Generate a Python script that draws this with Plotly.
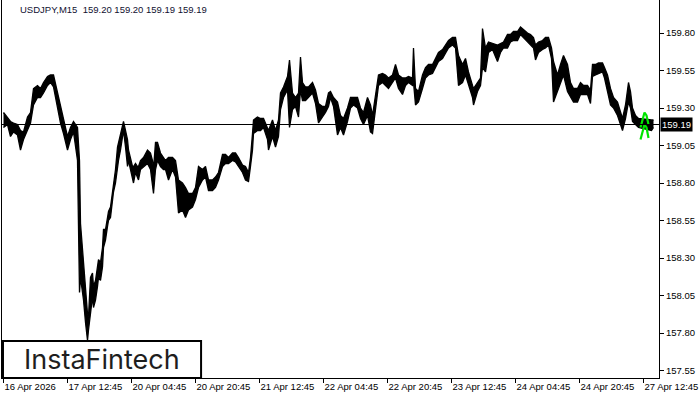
import numpy as np
import plotly.graph_objects as go

# M15 bars sampled along the chart (bar number from the first visible bar)
bar_no = [0, 4, 7, 10, 14, 17, 20, 24, 27, 30, 34, 37, 40, 44, 47, 50, 54, 57, 60, 64,
          67, 70, 74, 76, 77, 79, 80, 82, 84, 85, 87, 89, 90, 92, 94, 95, 97, 99, 100, 102,
          104, 105, 107, 110, 112, 114, 115, 117, 119, 120, 122, 124, 125, 127, 129, 130, 132, 134, 135, 137,
          140, 144, 147, 149, 150, 152, 154, 157, 160, 162, 165, 169, 172, 175, 179, 182, 185, 189, 192, 195,
          199, 202, 205, 209, 212, 215, 219, 222, 225, 229, 232, 235, 239, 242, 245, 247, 249, 250, 254, 257,
          260, 264, 265, 269, 272, 275, 277, 280, 284, 286, 289, 292, 295, 297, 299, 302, 305, 309, 312, 315,
          319, 322, 325, 327, 330, 334, 337, 340, 344, 347, 350, 354, 357, 360, 364, 367, 369, 372, 375, 379,
          382, 385, 389, 392, 395, 399, 402, 405, 409, 410, 412, 415, 419, 422, 425, 429, 432, 435, 439, 442,
          445, 449, 452, 455, 459, 462, 465, 469, 470, 474, 477, 479, 482, 485, 489, 494, 497, 500, 504, 507,
          510, 514, 517, 520, 524, 527, 530, 532, 535, 539, 542, 545, 548, 550, 554, 557, 560, 564, 567, 570,
          574, 577, 580, 584, 587, 589, 592, 595, 599, 601, 604, 607, 610, 614, 617, 619, 622, 625, 627, 629,
          632, 635, 648, 650]
high = [159.27, 159.24, 159.21, 159.20, 159.19, 159.15, 159.14, 159.24, 159.27, 159.43, 159.45, 159.43, 159.47, 159.51, 159.52, 159.52, 159.40, 159.31, 159.22, 159.11,
        159.17, 159.21, 159.17, 158.95, 158.53, 158.35, 158.24, 158.07, 157.93, 157.91, 158.17, 158.20, 158.11, 158.15, 158.27, 158.29, 158.27, 158.37, 158.49, 158.49,
        158.57, 158.61, 158.64, 158.80, 158.89, 159.04, 159.07, 159.11, 159.17, 159.21, 159.15, 159.09, 159.02, 158.97, 158.91, 158.91, 158.93, 158.91, 158.91, 158.95,
        158.97, 159.02, 159.00, 158.95, 158.89, 159.07, 159.07, 159.00, 158.97, 158.95, 158.97, 158.97, 158.95, 158.82, 158.80, 158.77, 158.73, 158.73, 158.77, 158.91,
        158.89, 158.91, 158.82, 158.82, 158.84, 158.87, 158.99, 158.99, 158.97, 159.00, 159.00, 158.97, 158.92, 158.91, 158.87, 158.97, 159.13, 159.22, 159.24, 159.23,
        159.23, 159.17, 159.15, 159.22, 159.15, 159.22, 159.40, 159.44, 159.51, 159.62, 159.40, 159.37, 159.40, 159.64, 159.47, 159.44, 159.44, 159.47, 159.42, 159.33,
        159.31, 159.31, 159.40, 159.41, 159.37, 159.34, 159.25, 159.23, 159.30, 159.37, 159.37, 159.37, 159.30, 159.27, 159.37, 159.32, 159.25, 159.39, 159.52, 159.53,
        159.52, 159.50, 159.52, 159.59, 159.52, 159.50, 159.50, 159.51, 159.50, 159.70, 159.43, 159.41, 159.52, 159.57, 159.59, 159.59, 159.63, 159.67, 159.69, 159.72,
        159.75, 159.77, 159.77, 159.65, 159.59, 159.63, 159.54, 159.45, 159.43, 159.47, 159.50, 159.83, 159.70, 159.74, 159.73, 159.72, 159.73, 159.74, 159.79, 159.79,
        159.81, 159.81, 159.84, 159.82, 159.80, 159.79, 159.77, 159.72, 159.74, 159.75, 159.77, 159.77, 159.70, 159.61, 159.52, 159.59, 159.65, 159.59, 159.47, 159.43,
        159.43, 159.47, 159.45, 159.45, 159.42, 159.59, 159.59, 159.60, 159.60, 159.57, 159.52, 159.43, 159.37, 159.34, 159.27, 159.23, 159.32, 159.47, 159.41, 159.30,
        159.25, 159.23, 159.22, 159.22]
low = [159.17, 159.19, 159.11, 159.14, 159.12, 159.02, 159.09, 159.15, 159.20, 159.32, 159.37, 159.37, 159.40, 159.45, 159.47, 159.44, 159.31, 159.20, 159.13, 159.02,
       159.09, 159.14, 158.95, 158.07, 158.17, 158.09, 158.02, 157.87, 157.75, 157.82, 157.93, 158.04, 157.97, 158.02, 158.11, 158.17, 158.15, 158.24, 158.37, 158.42,
       158.51, 158.55, 158.57, 158.74, 158.80, 158.93, 158.95, 159.02, 159.09, 159.15, 159.04, 158.91, 158.95, 158.89, 158.84, 158.80, 158.87, 158.84, 158.82, 158.89,
       158.91, 158.93, 158.89, 158.80, 158.73, 158.89, 158.95, 158.91, 158.89, 158.89, 158.82, 158.89, 158.84, 158.60, 158.62, 158.57, 158.62, 158.64, 158.69, 158.77,
       158.82, 158.84, 158.75, 158.75, 158.77, 158.82, 158.91, 158.93, 158.93, 158.95, 158.94, 158.91, 158.87, 158.82, 158.81, 158.91, 159.02, 159.13, 159.15, 159.15,
       159.17, 159.09, 159.02, 159.11, 159.04, 159.11, 159.29, 159.37, 159.42, 159.17, 159.29, 159.31, 159.24, 159.42, 159.35, 159.35, 159.37, 159.40, 159.33, 159.20,
       159.24, 159.27, 159.31, 159.37, 159.31, 159.12, 159.17, 159.12, 159.21, 159.30, 159.32, 159.30, 159.23, 159.19, 159.25, 159.14, 159.13, 159.30, 159.45, 159.47,
       159.45, 159.43, 159.47, 159.50, 159.43, 159.39, 159.45, 159.47, 159.45, 159.47, 159.32, 159.34, 159.43, 159.50, 159.52, 159.53, 159.57, 159.61, 159.63, 159.67,
       159.70, 159.72, 159.70, 159.45, 159.47, 159.52, 159.45, 159.37, 159.32, 159.41, 159.45, 159.57, 159.54, 159.67, 159.69, 159.61, 159.67, 159.70, 159.70, 159.74,
       159.75, 159.75, 159.79, 159.77, 159.74, 159.72, 159.70, 159.62, 159.67, 159.69, 159.70, 159.72, 159.63, 159.34, 159.41, 159.47, 159.52, 159.41, 159.37, 159.34,
       159.34, 159.39, 159.39, 159.39, 159.33, 159.51, 159.52, 159.53, 159.54, 159.50, 159.41, 159.32, 159.30, 159.25, 159.19, 159.15, 159.23, 159.34, 159.30, 159.21,
       159.19, 159.17, 159.15, 159.17]

# last bars highlighted in green
green_no = [637, 639, 641, 643, 645]
green_high = [159.17, 159.23, 159.27, 159.25, 159.19]
green_low = [159.09, 159.15, 159.19, 159.17, 159.10]

last_price = 159.19
price_ticks = [157.55, 157.80, 158.05, 158.30, 158.55, 158.80, 159.05, 159.30, 159.55, 159.80]
time_ticks = [0, 64, 128, 192, 256, 320, 384, 448, 512, 576, 640]
time_labels = ["16 Apr 2026", "17 Apr 12:45", "20 Apr 04:45", "20 Apr 20:45", "21 Apr 12:45",
               "22 Apr 04:45", "22 Apr 20:45", "23 Apr 12:45", "24 Apr 04:45", "24 Apr 20:45",
               "27 Apr 12:45"]

fig = go.Figure()
# price range drawn as a band between the bar lows and highs
fig.add_trace(go.Scatter(x=bar_no, y=low, mode="lines", line=dict(color="black", width=1.3),
                         hoverinfo="skip"))
fig.add_trace(go.Scatter(x=bar_no, y=high, mode="lines", line=dict(color="black", width=1.3),
                         fill="tonexty", fillcolor="black", hoverinfo="skip"))

# highlighted bars: two green strokes along their lows and highs
for ys in (green_low, green_high):
    fig.add_trace(go.Scatter(x=green_no, y=ys, mode="lines",
                             line=dict(color="#00e600", width=2.2), hoverinfo="skip"))

font = dict(family="Liberation Sans, Arial, sans-serif", size=9.5, color="black")

fig.update_layout(
    width=700, height=400,
    margin=dict(l=2, r=41, t=0, b=22),
    paper_bgcolor="white", plot_bgcolor="white",
    showlegend=False,
    font=font,
    xaxis=dict(range=[-1.5, 655.5], showgrid=False, zeroline=False,
               showline=True, linecolor="black", linewidth=1,
               tickvals=time_ticks, ticktext=time_labels,
               ticks="outside", ticklen=4, tickcolor="black",
               ticklabelposition="outside right", tickfont=font),
    yaxis=dict(range=[157.50, 160.02], side="right", showgrid=False, zeroline=False,
               showline=True, linecolor="black", linewidth=1, mirror=True,
               tickvals=price_ticks, ticktext=[f"{v:.2f}" for v in price_ticks],
               ticks="outside", ticklen=4, tickcolor="black", tickfont=font),
)

# current price line and tag
fig.add_shape(type="line", xref="paper", x0=0, x1=1, yref="y", y0=last_price, y1=last_price,
              line=dict(color="black", width=1))
fig.add_annotation(xref="paper", x=1, xanchor="left", xshift=1, yref="y", y=last_price,
                   yanchor="middle", text=f"{last_price:.2f}", showarrow=False, bgcolor="black",
                   font=dict(family=font["family"], size=9.5, color="white"), borderpad=1)

# header
fig.add_annotation(xref="paper", x=0.024, xanchor="left", yref="paper", y=0.974, yanchor="middle",
                   text="USDJPY,M15&nbsp; 159.20 159.20 159.19 159.19", showarrow=False,
                   font=dict(family=font["family"], size=9.5, color="#101030"))

# logo box
fig.add_shape(type="rect", xref="paper", yref="paper", x0=0.0015, x1=0.303, y0=0, y1=0.098,
              line=dict(color="black", width=2), fillcolor="white", layer="above")
fig.add_annotation(xref="paper", x=0.152, xanchor="center", yref="paper", y=0.048,
                   yanchor="middle", text="InstaFintech", showarrow=False,
                   font=dict(family="Inter, sans-serif", size=27, color="#1e1e1e"))

fig.write_html("out.html", config={"displayModeBar": False},
               post_script="document.body.style.margin='0';")
